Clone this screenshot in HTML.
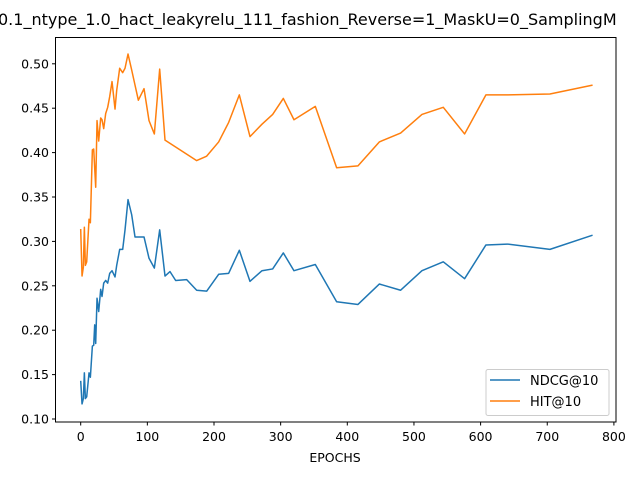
<!DOCTYPE html>
<html><head><meta charset="utf-8"><style>
body{margin:0;background:#fff;}
svg{display:block;font-family:"DejaVu Sans","Liberation Sans",sans-serif;}
</style></head><body>
<svg id="chart" width="640" height="480" viewBox="0 0 640 480" xmlns="http://www.w3.org/2000/svg">
<rect width="640" height="480" fill="#fff"/>
<text x="-2" y="25" font-size="16" fill="#000">0.1_ntype_1.0_hact_leakyrelu_111_fashion_Reverse=1_MaskU=0_SamplingM</text>
<g id="plot"></g>
<rect x="55.5" y="37.5" width="560.5" height="384.5" fill="none" stroke="#000" stroke-width="1"/>
<text x="335" y="462" font-size="12.5" text-anchor="middle">EPOCHS</text>
<g>
<rect x="486" y="369.5" width="123" height="46" rx="2" fill="#fff" fill-opacity="0.8" stroke="#ccc"/>
<line x1="490" y1="380" x2="520" y2="380" stroke="#1f77b4" stroke-width="1.5"/>
<text x="530" y="385" font-size="13">NDCG@10</text>
<line x1="490" y1="401" x2="520" y2="401" stroke="#ff7f0e" stroke-width="1.5"/>
<text x="530" y="406" font-size="13">HIT@10</text>
</g>
</svg>
<script>
const xTicks=[0,100,200,300,400,500,600,700,800];
const yTicks=[0.10,0.15,0.20,0.25,0.30,0.35,0.40,0.45,0.50];
const ndcgX=[0,2,4,5.5,7,9,12.5,14.5,17.5,19.5,21,22.5,24.5,27,30,32,34.5,37.5,40.5,43.5,47,51.5,54,58.5,63,66.5,71,76.5,81.5,95,102.5,110.5,118.5,126.5,134,142.5,159,174,189,207,222,238,254,272,288,304,320,352,384,416,448,480,512,544,576,608,640,704,768];
const ndcgY=[0.143,0.117,0.123,0.152,0.123,0.125,0.152,0.147,0.182,0.183,0.206,0.185,0.236,0.221,0.246,0.238,0.253,0.256,0.253,0.264,0.267,0.260,0.273,0.291,0.291,0.313,0.347,0.330,0.305,0.305,0.281,0.270,0.313,0.261,0.266,0.256,0.257,0.245,0.244,0.263,0.264,0.290,0.255,0.267,0.269,0.287,0.267,0.274,0.232,0.229,0.252,0.245,0.267,0.277,0.258,0.296,0.297,0.291,0.307];
const hitX=[0,2,4,5.5,7,9,12.5,14.5,17.5,19.5,22.5,24.5,27,30,32,34.5,37.5,40.5,43.5,47,51.5,54,58.5,63,66.5,71,76.5,81.5,86.5,95,102.5,110.5,118.5,126.5,174,189,207,222,238,254,272,288,304,320,352,384,416,448,480,512,544,576,608,640,704,768];
const hitY=[0.314,0.261,0.271,0.316,0.273,0.277,0.325,0.321,0.403,0.404,0.361,0.436,0.413,0.439,0.437,0.427,0.444,0.451,0.463,0.480,0.449,0.470,0.495,0.490,0.495,0.511,0.493,0.476,0.459,0.472,0.436,0.421,0.494,0.414,0.391,0.396,0.412,0.434,0.465,0.418,0.432,0.443,0.461,0.437,0.452,0.383,0.385,0.412,0.422,0.443,0.451,0.421,0.465,0.465,0.466,0.476];

const NS='http://www.w3.org/2000/svg';
const sx=v=>80.7+v*0.6665;
const sy=v=>419-(v-0.10)*888;
const g=document.getElementById('plot');
function mk(tag,attrs){const e=document.createElementNS(NS,tag);for(const k in attrs)e.setAttribute(k,attrs[k]);g.appendChild(e);return e;}
xTicks.forEach(t=>{
  const l=mk('line',{x1:sx(t),x2:sx(t),y1:422,y2:425.5,stroke:'#000'});
  
  
  const tx=mk('text',{x:sx(t),y:441,'font-size':'12.5','text-anchor':'middle'});
  tx.textContent=t;
  
  
});
yTicks.forEach(t=>{
  const l=mk('line',{x1:52,x2:55.5,y1:sy(t),y2:sy(t),stroke:'#000'});
  
  
  const tx=mk('text',{x:49,y:sy(t)+4.5,'font-size':'12.5','text-anchor':'end'});
  tx.textContent=t.toFixed(2);
  
  
});
function line(xs,ys,color,name){
  const p=mk('polyline',{points:xs.map((x,i)=>sx(x)+','+sy(ys[i])).join(' '),fill:'none',stroke:color,'stroke-width':'1.5','stroke-linejoin':'round'});
  
  
}
line(ndcgX,ndcgY,'#1f77b4','ndcg-line');
line(hitX,hitY,'#ff7f0e','hit-line');
</script>
</body></html>
